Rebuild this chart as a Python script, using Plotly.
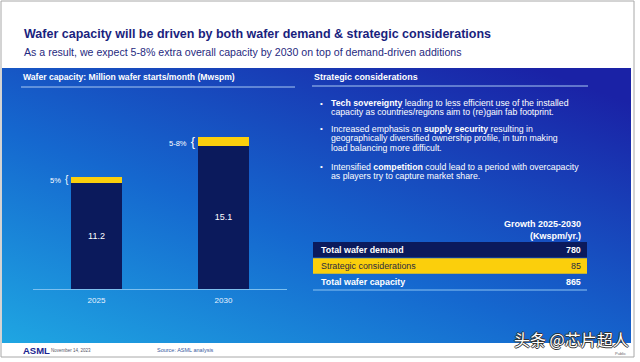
import base64
import plotly.graph_objects as go

# ---- data ----
years = ["2025", "2030"]
demand_driven = [11.2, 15.1]          # Mwspm
strategic_extra = [0.6, 0.95]         # Mwspm (approx. 5% / 5-8%)
extra_labels = ["5%", "5-8%"]

table_rows = ["Total wafer demand", "Strategic considerations", "Total wafer capacity"]
table_values = [780, 85, 865]
table_header = "Growth 2025-2030<br>(Kwspm/yr.)"

title = "Wafer capacity will be driven by both wafer demand & strategic considerations"
subtitle = "As a result, we expect 5-8% extra overall capacity by 2030 on top of demand-driven additions"
left_title = "Wafer capacity: Million wafer starts/month (Mwspm)"
right_title = "Strategic considerations"
bullets = [
    ["<b>Tech sovereignty</b> leading to less efficient use of the installed",
     "capacity as countries/regions aim to (re)gain fab footprint."],
    ["Increased emphasis on <b>supply security</b> resulting in",
     "geographically diversified ownership profile, in turn making",
     "load balancing more difficult."],
    ["Intensified <b>competition</b> could lead to a period with overcapacity",
     "as players try to capture market share."],
]

W, H = 640, 362
def px(x): return x / W
def py(y): return 1 - y / H

NAVY = "#0b1a5c"
YELLOW = "#fbcf0c"
FONT = "Liberation Sans, Arial, sans-serif"

# gradient background as svg image
svg = '''<svg xmlns="http://www.w3.org/2000/svg" width="630" height="275" viewBox="0 0 630 275" preserveAspectRatio="none">
<defs><linearGradient id="g" x1="0" y1="1" x2="0.85" y2="0">
<stop offset="0" stop-color="#1fa6e2"/>
<stop offset="0.45" stop-color="#1568cf"/>
<stop offset="1" stop-color="#1a22a6"/>
</linearGradient></defs>
<rect width="630" height="275" fill="url(#g)"/></svg>'''
src = "data:image/svg+xml;base64," + base64.b64encode(svg.encode()).decode()

fig = go.Figure()
fig.add_trace(go.Bar(
    x=years, y=demand_driven, marker=dict(color=NAVY, line=dict(width=0)),
    text=[f"{v}" for v in demand_driven], textposition="inside", insidetextanchor="middle",
    textfont=dict(color="white", size=9, family=FONT), hoverinfo="skip", showlegend=False))
fig.add_trace(go.Bar(
    x=years, y=strategic_extra, marker=dict(color=YELLOW, line=dict(width=0)),
    hoverinfo="skip", showlegend=False))

ann = []
shapes = []
# bar extra labels with braces (x given as category index)
for i, lab in enumerate(extra_labels):
    ann.append(dict(x=i, y=demand_driven[i] + strategic_extra[i] / 2, xref="x", yref="y",
                    text=f"{lab}  <span style='font-size:{10 if i == 0 else 13}px'>{{</span>",
                    showarrow=False, xanchor="right", yanchor="middle", xshift=-26,
                    font=dict(color="white", size=7.5, family=FONT)))

ann += [
    dict(x=px(22), y=py(34), text=f"<b>{title}</b>", xanchor="left", yanchor="middle",
         font=dict(color="#1a1f7e", size=12.5, family=FONT)),
    dict(x=px(22), y=py(52), text=subtitle, xanchor="left", yanchor="middle",
         font=dict(color="#1f2a80", size=10.6, family=FONT)),
    dict(x=px(21), y=py(77), text=f"<b>{left_title}</b>", xanchor="left", yanchor="middle",
         font=dict(color="white", size=8.6, family=FONT)),
    dict(x=px(312), y=py(77), text=f"<b>{right_title}</b>", xanchor="left", yanchor="middle",
         font=dict(color="white", size=8.9, family=FONT)),
    dict(x=px(21), y=py(350), text="<b>ASML</b>", xanchor="left", yanchor="middle",
         font=dict(color="#1a2590", size=9.5, family=FONT)),
    dict(x=px(49), y=py(350), text="November 14, 2023", xanchor="left", yanchor="middle",
         font=dict(color="#555566", size=4.5, family=FONT)),
    dict(x=px(155), y=py(350), text="Source: ASML analysis", xanchor="left", yanchor="middle",
         font=dict(color="#3a5aa0", size=5.5, family=FONT)),
    dict(x=px(628), y=py(353), text="Public", xanchor="right", yanchor="middle",
         font=dict(color="#666666", size=4, family=FONT)),
    dict(x=px(512), y=py(339), text="头条 @芯片超人", xanchor="left", yanchor="middle",
         font=dict(color="white", size=16, family="Noto Sans CJK SC",
                   shadow="-1px 0 #333, 1px 0 #333, 0 -1px #333, 0 1px #333")),
    dict(x=px(583), y=py(229.5), text=f"<b>{table_header}</b>", xanchor="right", yanchor="middle",
         align="right", font=dict(color="white", size=9, family=FONT)),
]
line_y = [[103, 112.5], [128.5, 138, 147.5], [166.5, 176]]
for lines, ys in zip(bullets, line_y):
    ann.append(dict(x=px(321), y=py(ys[0]), text="•", xanchor="center", yanchor="middle",
                    font=dict(color="white", size=8, family=FONT)))
    for txt, yy in zip(lines, ys):
        ann.append(dict(x=px(329), y=py(yy), text=txt, xanchor="left", yanchor="middle",
                        font=dict(color="white", size=8.75, family=FONT)))

# table rows
row_fill = [NAVY, YELLOW, None]
row_font = ["white", "#2a2a40", "white"]
row_bold = [True, False, True]
for i, (lab, val) in enumerate(zip(table_rows, table_values)):
    top = 242 + i * 16.2
    if row_fill[i]:
        shapes.append(dict(type="rect", xref="paper", yref="paper", x0=px(313), x1=px(587),
                           y0=py(top + 15.6), y1=py(top), fillcolor=row_fill[i],
                           line=dict(width=0), layer="above"))
    t_lab = f"<b>{lab}</b>" if row_bold[i] else lab
    t_val = f"<b>{val}</b>" if row_bold[i] else f"{val}"
    ann.append(dict(x=px(319), y=py(top + 8), text=t_lab, xanchor="left", yanchor="middle",
                    font=dict(color=row_font[i], size=8.9, family=FONT)))
    ann.append(dict(x=px(583), y=py(top + 8), text=t_val, xanchor="right", yanchor="middle",
                    font=dict(color=row_font[i], size=8.9, family=FONT)))

for a in ann:
    a.setdefault("xref", "paper")
    a.setdefault("yref", "paper")
    a.setdefault("showarrow", False)

shapes += [
    dict(type="line", xref="paper", yref="paper", x0=px(21), x1=px(295), y0=py(87), y1=py(87),
         line=dict(color="#a9c9f2", width=1)),
    dict(type="line", xref="paper", yref="paper", x0=px(312), x1=px(588), y0=py(86), y1=py(86),
         line=dict(color="#a9c9f2", width=1)),
    dict(type="line", xref="paper", yref="paper", x0=px(313), x1=px(587), y0=py(290), y1=py(290),
         line=dict(color="#8cc4f2", width=1.2)),
    dict(type="rect", xref="paper", yref="paper", x0=px(1), x1=px(634), y0=py(1), y1=py(357),
         line=dict(color="#a8a8a8", width=1)),
]

fig.update_layout(
    width=W, height=H, margin=dict(l=0, r=0, t=0, b=0, autoexpand=False),
    paper_bgcolor="white", plot_bgcolor="rgba(0,0,0,0)",
    barmode="stack", bargap=0.6,
    xaxis=dict(type="category", domain=[px(33), px(287)], range=[-0.5, 1.5], autorange=False,
               showline=True, linecolor="#7cc0f0", ticklabelstandoff=3,
               linewidth=1, showgrid=False, zeroline=False, ticks="", fixedrange=True,
               automargin=False, tickfont=dict(color="#e8f2ff", size=8, family=FONT)),
    yaxis=dict(domain=[py(289), py(99)], range=[0, 20], autorange=False, visible=False,
               fixedrange=True, automargin=False),
    images=[dict(source=src, xref="paper", yref="paper", x=px(2), y=py(68),
                 sizex=px(631) - px(2), sizey=py(68) - py(343), sizing="stretch",
                 xanchor="left", yanchor="top", layer="below")],
    annotations=ann, shapes=shapes, font=dict(family=FONT), showlegend=False,
)

fig.write_html("out.html", config={"displayModeBar": False},
               post_script="document.body.style.margin='0';document.body.style.overflow='hidden';")
